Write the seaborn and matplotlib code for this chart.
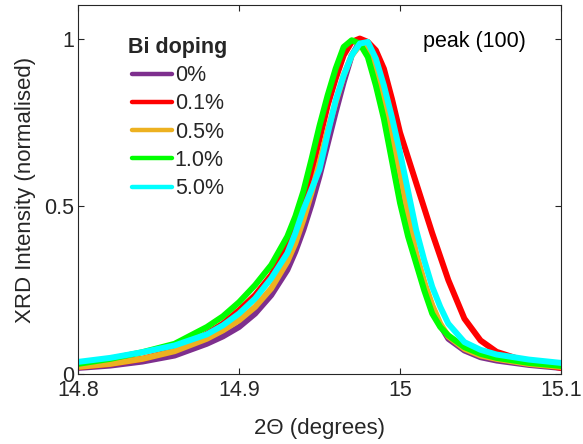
import numpy as np
import pandas as pd
import matplotlib
matplotlib.use("Agg")
import matplotlib.pyplot as plt
import seaborn as sns

two_theta = [14.80, 14.82, 14.84, 14.86, 14.88, 14.89, 14.90, 14.91, 14.92, 14.93,
             14.935, 14.94, 14.945, 14.95, 14.955, 14.96, 14.965, 14.97, 14.975, 14.98,
             14.985, 14.99, 14.995, 15.00, 15.005, 15.01, 15.015, 15.02, 15.025, 15.03,
             15.04, 15.05, 15.06, 15.08, 15.10]

y_0 = [0.018, 0.025, 0.037, 0.055, 0.090, 0.112, 0.140, 0.180, 0.235, 0.310,
       0.365, 0.430, 0.505, 0.590, 0.685, 0.780, 0.870, 0.950, 0.990, 0.975,
       0.905, 0.800, 0.695, 0.590, 0.465, 0.350, 0.270, 0.200, 0.145, 0.105,
       0.070, 0.050, 0.040, 0.027, 0.018]
y_01 = [0.020, 0.030, 0.045, 0.070, 0.120, 0.150, 0.190, 0.235, 0.295, 0.380,
        0.440, 0.510, 0.600, 0.700, 0.800, 0.880, 0.950, 0.990, 1.000, 0.990,
        0.965, 0.910, 0.820, 0.720, 0.645, 0.570, 0.495, 0.420, 0.350, 0.280,
        0.165, 0.100, 0.066, 0.035, 0.018]
y_05 = [0.021, 0.030, 0.045, 0.068, 0.105, 0.130, 0.160, 0.200, 0.255, 0.335,
        0.390, 0.460, 0.540, 0.630, 0.725, 0.810, 0.890, 0.950, 0.980, 0.970,
        0.900, 0.810, 0.705, 0.600, 0.475, 0.360, 0.275, 0.205, 0.150, 0.112,
        0.075, 0.055, 0.045, 0.030, 0.021]
y_10 = [0.030, 0.045, 0.065, 0.090, 0.140, 0.172, 0.214, 0.265, 0.325, 0.410,
        0.470, 0.545, 0.640, 0.740, 0.830, 0.910, 0.975, 0.995, 0.985, 0.945,
        0.860, 0.760, 0.635, 0.510, 0.410, 0.330, 0.250, 0.180, 0.140, 0.115,
        0.080, 0.060, 0.048, 0.033, 0.024]
y_50 = [0.036, 0.048, 0.065, 0.085, 0.118, 0.145, 0.180, 0.225, 0.285, 0.360,
        0.420, 0.490, 0.550, 0.610, 0.715, 0.815, 0.890, 0.950, 0.985, 0.990,
        0.940, 0.860, 0.765, 0.660, 0.545, 0.430, 0.340, 0.260, 0.200, 0.150,
        0.095, 0.072, 0.058, 0.043, 0.033]

labels = ["0%", "0.1%", "0.5%", "1.0%", "5.0%"]
colors = ["#7E2F8E", "#FF0000", "#EDB120", "#00FF00", "#00FFFF"]
series = [y_0, y_01, y_05, y_10, y_50]

rows = []
for lab, ys in zip(labels, series):
    for x, y in zip(two_theta, ys):
        rows.append({"x": x, "y": y, "doping": lab})
df = pd.DataFrame(rows)

sns.set_style("ticks")
plt.rcParams['font.family'] = ['Liberation Sans', 'DejaVu Sans']

fig = plt.figure(figsize=(5.83, 4.44), dpi=100)
ax = fig.add_axes([0.1338, 0.1577, 0.8285, 0.831])

sns.lineplot(data=df, x="x", y="y", hue="doping", hue_order=labels,
             palette=dict(zip(labels, colors)), linewidth=4.3, ax=ax,
             legend=False, sort=False, estimator=None)
for ln in ax.get_lines():
    ln.set_solid_joinstyle("round")
    ln.set_solid_capstyle("round")

ax.set_xlim(14.8, 15.1)
ax.set_ylim(0, 1.1)
ax.set_xticks([14.8, 14.9, 15.0, 15.1])
ax.set_xticklabels(["14.8", "14.9", "15", "15.1"])
ax.set_yticks([0, 0.5, 1])
ax.set_yticklabels(["0", "0.5", "1"])
ax.tick_params(direction="in", length=4, width=0.8, top=True, right=True,
               labelsize=15.5, colors="#262626", pad=3)
ax.tick_params(axis="x", pad=4.5)
for s in ax.spines.values():
    s.set_visible(True)
    s.set_color("#262626")
    s.set_linewidth(0.8)

ax.set_xlabel("2\u0398 (degrees)", fontsize=16, color="#262626", labelpad=12)
ax.set_ylabel("XRD Intensity (normalised)", fontsize=16, color="#262626", labelpad=6)

handles = [plt.Line2D([], [], color=c, lw=3.2) for c in colors]
leg = ax.legend(handles, labels, title="Bi doping", loc="upper left",
                bbox_to_anchor=(0.104, 0.914), frameon=False, fontsize=15.5,
                title_fontproperties={"weight": "bold", "size": 15.5},
                handlelength=1.86, handletextpad=0.12, labelspacing=0.34,
                borderaxespad=0, borderpad=0)
leg._legend_box.align = "center"

ax.text(0.82, 0.90, "peak (100)", transform=ax.transAxes, fontsize=15.5,
        ha="center", va="center", color="black")

fig.savefig("out.png", dpi=100)
